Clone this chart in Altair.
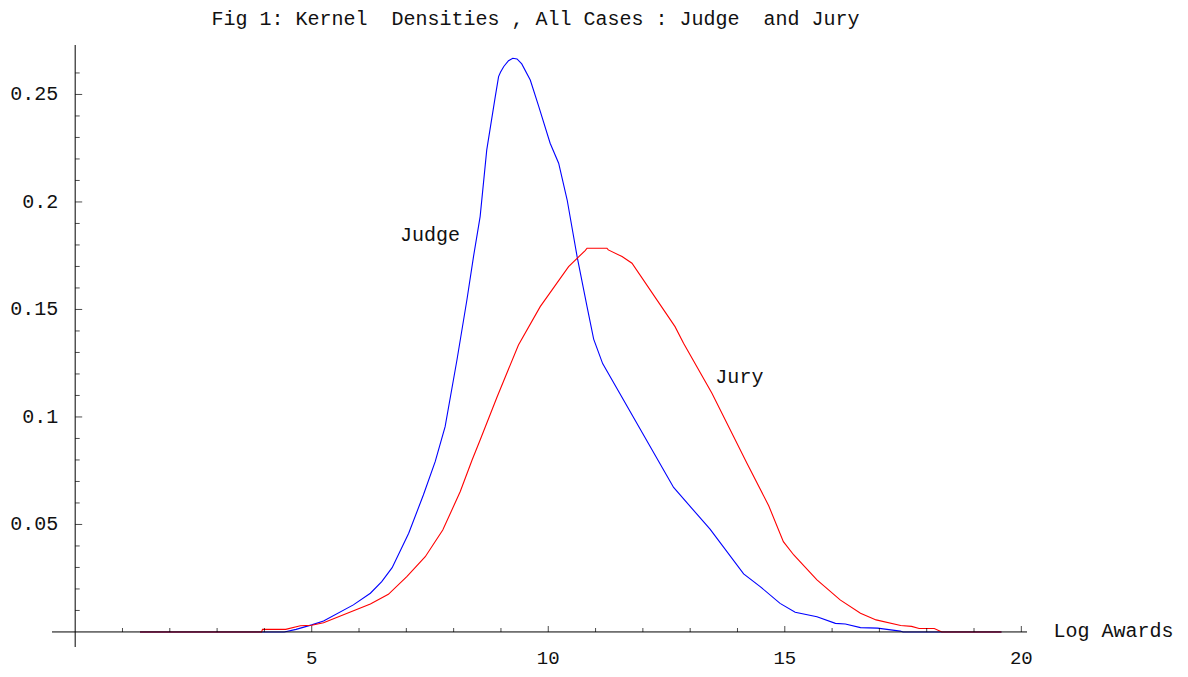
import altair as alt
import pandas as pd

# ---- data ----
judge_x = [1.37, 4.42, 4.67, 5.00, 5.25, 5.88, 6.24, 6.48, 6.70, 7.05, 7.36, 7.61, 7.82,
           8.07, 8.28, 8.42, 8.56, 8.70, 8.88, 8.95, 8.99, 9.06, 9.16, 9.25, 9.34, 9.44,
           9.62, 9.80, 10.04, 10.22, 10.40, 10.61, 10.82, 10.96, 11.15, 12.65, 13.42,
           14.13, 14.48, 14.90, 15.22, 15.68, 16.07, 16.28, 16.60, 16.96, 17.44, 17.50, 19.58]
judge_y = [0.0, 0.0, 0.0012, 0.0033, 0.0051, 0.0126, 0.0180, 0.0234, 0.0299, 0.0459, 0.0637,
           0.0792, 0.0955, 0.1265, 0.1544, 0.1746, 0.1932, 0.2242, 0.2490, 0.2583, 0.2603,
           0.2630, 0.2657, 0.2668, 0.2665, 0.2642, 0.2567, 0.2443, 0.2273, 0.2180, 0.2009,
           0.1746, 0.1513, 0.1362, 0.1248, 0.0672, 0.0478, 0.0270, 0.0211, 0.0133, 0.0092,
           0.0071, 0.0040, 0.0037, 0.0020, 0.0018, 0.0004, 0.0, 0.0]

jury_x = [1.37, 3.94, 3.96, 4.45, 4.76, 5.00, 5.25, 6.24, 6.62, 7.01, 7.40, 7.77, 8.14, 8.39,
          8.56, 8.92, 9.37, 9.83, 10.43, 10.78, 10.82, 11.24, 11.27, 11.56, 11.77, 12.68,
          12.86, 13.46, 13.92, 14.20, 14.66, 14.97, 15.19, 15.68, 16.17, 16.60, 16.93, 17.45,
          17.68, 17.84, 18.16, 18.32, 19.58]
jury_y = [0.0, 0.0, 0.0012, 0.0012, 0.0029, 0.0031, 0.0043, 0.0130, 0.0175, 0.0257, 0.0350,
          0.0474, 0.0653, 0.0800, 0.0893, 0.1094, 0.1335, 0.1513, 0.1699, 0.1774, 0.1785,
          0.1785, 0.1777, 0.1746, 0.1715, 0.1420, 0.1343, 0.1110, 0.0908, 0.0785, 0.0587,
          0.0420, 0.0358, 0.0242, 0.0149, 0.0087, 0.0056, 0.0030, 0.0026, 0.0016, 0.0016,
          0.0, 0.0]

x_major = [5, 10, 15, 20]
x_major_labels = ["5", "10", "15", "20"]
x_minor = [1, 2, 3, 4, 6, 7, 8, 9, 11, 12, 13, 14, 16, 17, 18, 19]
y_major = [0.05, 0.1, 0.15, 0.2, 0.25]
y_major_labels = ["0.05", "0.1", "0.15", "0.2", "0.25"]
y_minor = [0.01, 0.02, 0.03, 0.04, 0.06, 0.07, 0.08, 0.09, 0.11, 0.12, 0.13, 0.14,
           0.16, 0.17, 0.18, 0.19, 0.21, 0.22, 0.23, 0.24, 0.26]

label_text = ["Judge", "Jury"]
label_x = [7.5, 14.04]
label_y = [0.1847, 0.1186]

axis_label = "Log Awards"
axis_label_x = 20.68

# non-breaking spaces keep the wide gaps of the original title
title_text = "Fig 1: Kernel\u00a0 Densities , All Cases : Judge\u00a0 and Jury"
title_x = 9.73
title_y = 0.2822

x_extent = [-0.49, 20.12]
y_extent = [-0.007, 0.273]

FONT = "Liberation Mono"

# ---- tables ----
curves = pd.concat([
    pd.DataFrame({"x": judge_x, "y": judge_y, "series": "Judge"}),
    pd.DataFrame({"x": jury_x, "y": jury_y, "series": "Jury"}),
])

xs = alt.Scale(domain=x_extent, nice=False, zero=False)
ys = alt.Scale(domain=y_extent, nice=False, zero=False)

lines = alt.Chart(curves).mark_line(strokeWidth=1.1, clip=False).encode(
    x=alt.X("x:Q", scale=xs, axis=None),
    y=alt.Y("y:Q", scale=ys, axis=None),
    color=alt.Color("series:N",
                    scale=alt.Scale(domain=["Judge", "Jury"], range=["#0000ff", "#ff0000"]),
                    legend=None),
    detail="series:N",
)

hline = alt.Chart(pd.DataFrame({"a": [x_extent[0]], "b": [x_extent[1]], "c": [0.0]})).mark_rule(
    color="black", strokeWidth=1).encode(
    x=alt.X("a:Q", scale=xs), x2="b:Q", y=alt.Y("c:Q", scale=ys))
vline = alt.Chart(pd.DataFrame({"a": [y_extent[0]], "b": [y_extent[1]], "c": [0.0]})).mark_rule(
    color="black", strokeWidth=1).encode(
    y=alt.Y("a:Q", scale=ys), y2="b:Q", x=alt.X("c:Q", scale=xs))

xmaj = alt.Chart(pd.DataFrame({"v": x_major})).mark_tick(
    orient="vertical", size=6, thickness=1, yOffset=-3, color="black").encode(
    x=alt.X("v:Q", scale=xs), y=alt.datum(0.0))
xmin = alt.Chart(pd.DataFrame({"v": x_minor})).mark_tick(
    orient="vertical", size=4, thickness=1, yOffset=-2, color="black").encode(
    x=alt.X("v:Q", scale=xs), y=alt.datum(0.0))
ymaj = alt.Chart(pd.DataFrame({"v": y_major})).mark_tick(
    orient="horizontal", size=7, thickness=1, xOffset=3.5, color="black").encode(
    y=alt.Y("v:Q", scale=ys), x=alt.datum(0.0))
ymin = alt.Chart(pd.DataFrame({"v": y_minor})).mark_tick(
    orient="horizontal", size=4.5, thickness=1, xOffset=2.25, color="black").encode(
    y=alt.Y("v:Q", scale=ys), x=alt.datum(0.0))

xlab = alt.Chart(pd.DataFrame({"v": x_major, "t": x_major_labels})).mark_text(
    font=FONT, fontSize=19, dy=26, baseline="middle", align="center", color="#111111").encode(
    x=alt.X("v:Q", scale=xs), y=alt.datum(0.0), text="t:N")
ylab = alt.Chart(pd.DataFrame({"v": y_major, "t": y_major_labels})).mark_text(
    font=FONT, fontSize=20, dx=-17, baseline="middle", align="right", color="#111111").encode(
    y=alt.Y("v:Q", scale=ys), x=alt.datum(0.0), text="t:N")

notes = alt.Chart(pd.DataFrame({"t": label_text, "x": label_x, "y": label_y})).mark_text(
    font=FONT, fontSize=20, baseline="middle", align="center", color="#111111").encode(
    x=alt.X("x:Q", scale=xs), y=alt.Y("y:Q", scale=ys), text="t:N")

axlab = alt.Chart(pd.DataFrame({"t": [axis_label], "x": [axis_label_x], "y": [0.0]})).mark_text(
    font=FONT, fontSize=20, baseline="alphabetic", dy=5, align="left", color="#111111").encode(
    x=alt.X("x:Q", scale=xs), y=alt.Y("y:Q", scale=ys), text="t:N")

title = alt.Chart(pd.DataFrame({"t": [title_text], "x": [title_x], "y": [title_y]})).mark_text(
    font=FONT, fontSize=20, baseline="alphabetic", align="center", color="#111111").encode(
    x=alt.X("x:Q", scale=xs), y=alt.Y("y:Q", scale=ys), text="t:N")

chart = alt.layer(lines, hline, vline, xmaj, xmin, ymaj, ymin, xlab, ylab, notes, axlab, title).properties(
    width=975, height=602,
    padding={"left": 44, "top": 37, "right": 153, "bottom": 22},
    autosize=alt.AutoSizeParams(type="none"),
).configure(background="white", view=alt.ViewConfig(stroke=None))

chart.save("out.html", embed_options={"renderer": "svg", "actions": False})
